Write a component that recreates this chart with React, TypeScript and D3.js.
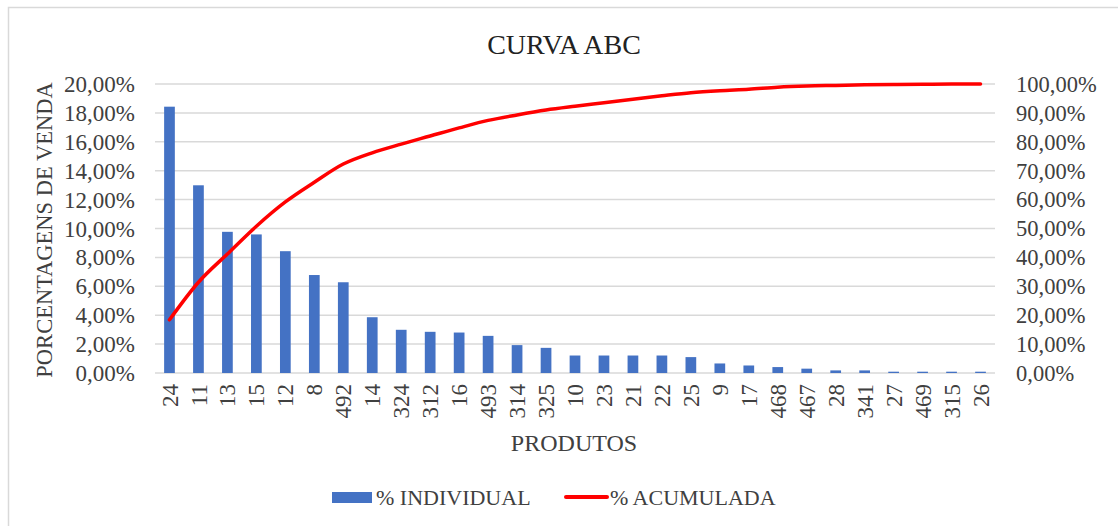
import React, { useEffect, useRef } from "react";
import * as d3 from "d3";

// produtos (ordem do gráfico)
const produtos = ["24", "11", "13", "15", "12", "8", "492", "14", "324", "312", "16", "493", "314", "325", "10", "23", "21", "22", "25", "9", "17", "468", "467", "28", "341", "27", "469", "315", "26"];
// % individual de venda
const individual = [18.43, 12.99, 9.77, 9.59, 8.43, 6.78, 6.28, 3.86, 2.99, 2.85, 2.8, 2.57, 1.93, 1.74, 1.21, 1.21, 1.21, 1.21, 1.1, 0.66, 0.52, 0.41, 0.3, 0.18, 0.18, 0.09, 0.09, 0.09, 0.09];
// % acumulada
const acumulada = [18.4, 31.4, 41.2, 50.8, 59.2, 66.0, 72.3, 76.2, 79.2, 82.0, 84.8, 87.4, 89.3, 91.0, 92.3, 93.5, 94.7, 95.9, 97.0, 97.7, 98.2, 98.9, 99.3, 99.5, 99.7, 99.8, 99.9, 100, 100];
const leftTicks = [0, 2, 4, 6, 8, 10, 12, 14, 16, 18, 20];
const rightTicks = [0, 10, 20, 30, 40, 50, 60, 70, 80, 90, 100];

const fmt = (v: number) => v.toFixed(2).replace(".", ",") + "%";

export default function App() {
  const ref = useRef<SVGSVGElement>(null);

  useEffect(() => {
    const svg = d3.select(ref.current);
    svg.selectAll("*").remove();
    const W = 1118, H = 526;
    const m = { top: 84, left: 155, right: 995, bottom: 373 };
    const font = "'Liberation Serif', 'Times New Roman', serif";

    svg.attr("width", W).attr("height", H).style("font-family", font);

    svg.append("rect").attr("width", W).attr("height", H).attr("fill", "#fff");
    // borda
    svg.append("path").attr("d", `M8.5,${H} V7.5 H${W}`).attr("fill", "none").attr("stroke", "#d9d9d9").attr("stroke-width", 1.5);

    const x = d3.scaleBand().domain(produtos).range([m.left, m.right]).paddingInner(0.63).paddingOuter(0.315);
    const yL = d3.scaleLinear().domain([0, 20]).range([m.bottom, m.top]);
    const yR = d3.scaleLinear().domain([0, 100]).range([m.bottom, m.top]);

    // grade
    svg.append("g").selectAll("line").data(leftTicks).join("line")
      .attr("x1", m.left).attr("x2", m.right)
      .attr("y1", d => yL(d)).attr("y2", d => yL(d))
      .attr("stroke", "#d9d9d9").attr("stroke-width", 1.5);

    // eixos esquerdo e direito
    svg.append("g").selectAll("text").data(leftTicks).join("text")
      .attr("x", 135).attr("y", d => yL(d)).attr("dy", "0.35em")
      .attr("text-anchor", "end").attr("font-size", 23).attr("fill", "#404040")
      .text(d => fmt(d));
    svg.append("g").selectAll("text").data(rightTicks).join("text")
      .attr("x", 1016).attr("y", d => yR(d)).attr("dy", "0.35em")
      .attr("text-anchor", "start").attr("font-size", 22.5).attr("fill", "#404040")
      .text(d => fmt(d));

    // barras
    svg.append("g").selectAll("rect").data(individual).join("rect")
      .attr("x", (d, i) => x(produtos[i])!)
      .attr("width", x.bandwidth())
      .attr("y", d => yL(d))
      .attr("height", d => yL(0) - yL(d))
      .attr("fill", "#4472c4");

    // linha acumulada
    const line = d3.line<number>()
      .x((d, i) => x(produtos[i])! + x.bandwidth() / 2)
      .y(d => yR(d))
      .curve(d3.curveMonotoneX);
    svg.append("path").datum(acumulada).attr("d", line)
      .attr("fill", "none").attr("stroke", "#ff0000").attr("stroke-width", 3.5)
      .attr("stroke-linejoin", "round").attr("stroke-linecap", "round");

    // rótulos x
    svg.append("g").selectAll("text").data(produtos).join("text")
      .attr("transform", d => `translate(${x(d)! + x.bandwidth() / 2},384) rotate(-90)`)
      .attr("dy", "0.35em").attr("text-anchor", "end")
      .attr("font-size", 23).attr("fill", "#404040")
      .text(d => d);

    // títulos
    svg.append("text").attr("x", 564).attr("y", 54).attr("text-anchor", "middle")
      .attr("font-size", 28).attr("fill", "#222").text("CURVA ABC");
    svg.append("text").attr("x", 574).attr("y", 451).attr("text-anchor", "middle")
      .attr("font-size", 24).attr("fill", "#404040").text("PRODUTOS");
    svg.append("text").attr("transform", "translate(44,230) rotate(-90)")
      .attr("dy", "0.35em").attr("text-anchor", "middle")
      .attr("font-size", 22.5).attr("fill", "#404040").text("PORCENTAGENS DE VENDA");

    // legenda
    const lg = svg.append("g");
    lg.append("rect").attr("x", 332).attr("y", 492).attr("width", 40).attr("height", 11).attr("fill", "#4472c4");
    lg.append("text").attr("x", 376).attr("y", 497).attr("dy", "0.35em")
      .attr("font-size", 22).attr("fill", "#404040").text("% INDIVIDUAL");
    lg.append("line").attr("x1", 566).attr("x2", 607).attr("y1", 497).attr("y2", 497)
      .attr("stroke", "#ff0000").attr("stroke-width", 4).attr("stroke-linecap", "round");
    lg.append("text").attr("x", 610).attr("y", 497).attr("dy", "0.35em")
      .attr("font-size", 22).attr("fill", "#404040").text("% ACUMULADA");
  }, []);

  return <svg ref={ref} style={{ position: "absolute", left: 0, top: 0 }} />;
}
